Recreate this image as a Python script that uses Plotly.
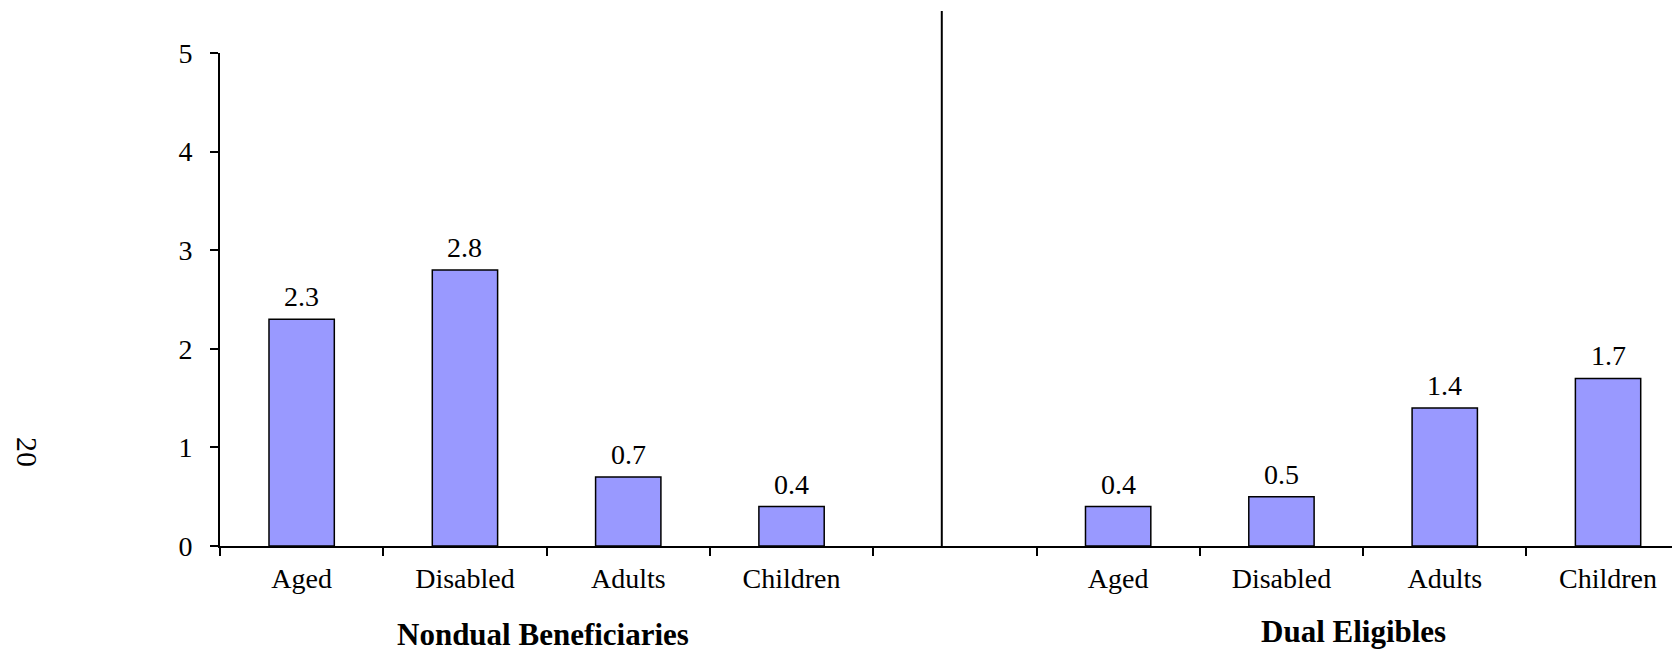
import plotly.graph_objects as go

categories = ["Aged", "Disabled", "Adults", "Children"]
nondual_values = [2.3, 2.8, 0.7, 0.4]
dual_values = [0.4, 0.5, 1.4, 1.7]
group_names = ["Nondual Beneficiaries", "Dual Eligibles"]
y_ticks = [0, 1, 2, 3, 4, 5]
page_number = "20"

SERIF = "Liberation Serif, Times New Roman, serif"
n = len(categories)
nondual_x = list(range(n))
dual_x = [n + 1 + i for i in range(n)]
all_x = nondual_x + [n] + dual_x
all_labels = categories + [""] + categories

W, H = 1672, 643
L, T, PW, PH = 212, 45, 1460, 493
B = H - T - PH

fig = go.Figure()
for xs, vals in [(nondual_x, nondual_values), (dual_x, dual_values)]:
    fig.add_trace(go.Bar(
        x=xs, y=vals, width=0.4,
        marker=dict(color="#9999FF", line=dict(color="black", width=1.5)),
        showlegend=False, hoverinfo="skip",
    ))
    for x, v in zip(xs, vals):
        fig.add_annotation(x=x, y=v, text=f"{v:.1f}", showarrow=False,
                           yanchor="bottom", yshift=5,
                           font=dict(family=SERIF, size=28, color="black"))

# group titles
for name, xs, dx, dy in zip(group_names, [nondual_x, dual_x], [-4, -10], [0, 3]):
    fig.add_annotation(x=(xs[0] + xs[-1]) / 2, xref="x", y=-88 / PH, yref="paper",
                       text=f"<b>{name}</b>", showarrow=False, yanchor="middle",
                       xshift=dx, yshift=dy, borderpad=0,
                       font=dict(family=SERIF, size=31, color="black"))

# separator line between groups
fig.add_shape(type="line", xref="x", yref="paper", x0=n - 0.08, x1=n - 0.08,
              y0=0, y1=1.085, line=dict(color="black", width=2))

# page number
fig.add_annotation(x=(20 - L) / PW, xref="paper", xanchor="center",
                   y=(PH + T - 444) / PH, yref="paper", yanchor="middle",
                   text=page_number, showarrow=False, textangle=90, borderpad=0,
                   font=dict(family=SERIF, size=30, color="black"))

fig.update_layout(
    width=W, height=H,
    margin=dict(l=L, r=W - L - PW, t=T, b=B),
    paper_bgcolor="white", plot_bgcolor="white",
    xaxis=dict(
        range=[-0.5, -0.5 + PW / 163.3],
        tickmode="array", tickvals=all_x, ticktext=all_labels,
        ticks="", showgrid=False, zeroline=False,
        showline=True, linecolor="black", linewidth=2,
        ticklabelstandoff=6,
        tickfont=dict(family=SERIF, size=28, color="black"),
        minor=dict(tickmode="array", tickvals=[x - 0.5 for x in all_x],
                   ticks="outside", ticklen=8, tickwidth=2, tickcolor="black",
                   showgrid=False),
    ),
    yaxis=dict(
        range=[0, 5], tickmode="array", tickvals=y_ticks,
        ticks="outside", ticklen=8, tickwidth=2, tickcolor="black",
        showgrid=False, zeroline=False,
        showline=True, linecolor="black", linewidth=2,
        ticklabelstandoff=12,
        tickfont=dict(family=SERIF, size=28, color="black"),
    ),
)

fig.write_html("out.html")
